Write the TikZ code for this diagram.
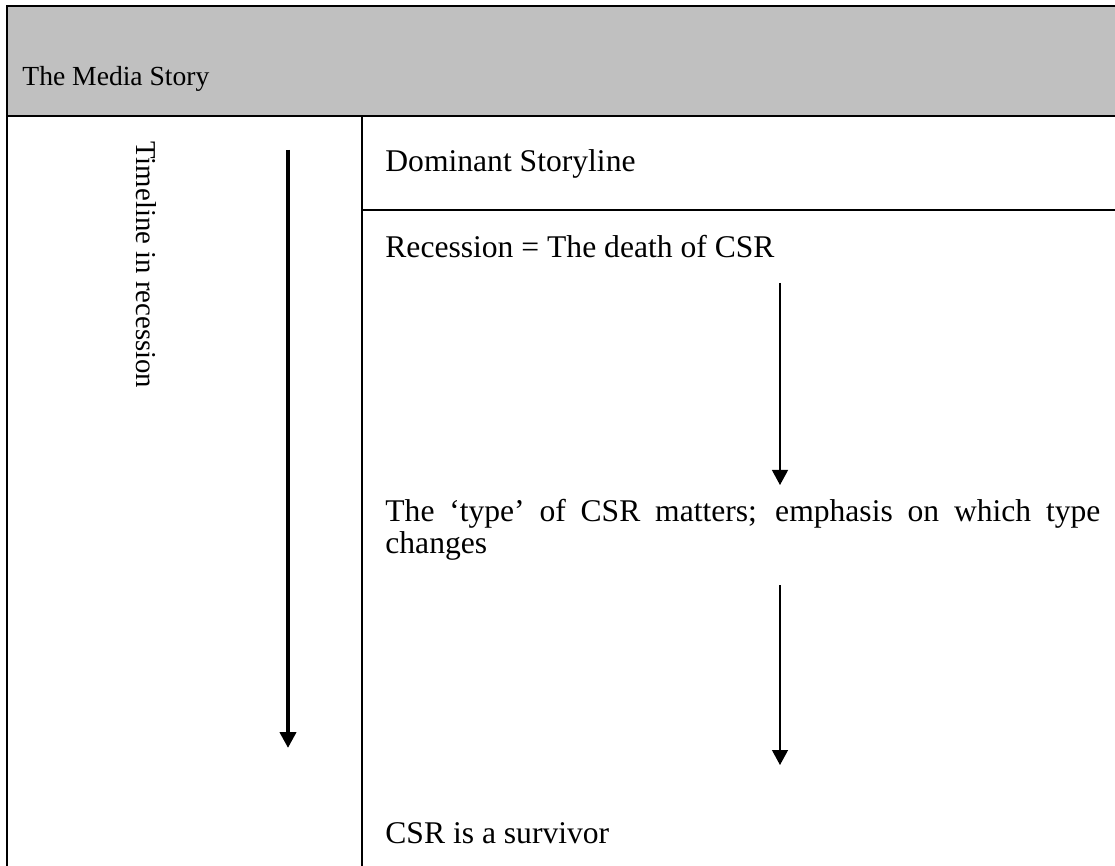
\documentclass[tikz,border=0pt]{standalone}
\usepackage{fontspec}
\setmainfont{Liberation Serif}
\usetikzlibrary{arrows.meta}
\definecolor{headgray}{RGB}{192,192,192}
\begin{document}
\begin{tikzpicture}[x=0.5pt,y=-0.5pt,
  frame/.style={line width=1.1pt,draw=black},
  rule/.style={line width=0.8pt,draw=black},
  headtxt/.style={inner sep=0pt,font=\fontsize{13.8}{16}\selectfont},
  bodytxt/.style={inner sep=0pt,font=\fontsize{15.8}{16}\selectfont},
  sidetxt/.style={inner sep=0pt,font=\fontsize{14.4}{16}\selectfont},
  flowarrow/.style={line width=0.6pt,-{Triangle[width=8pt,length=7.5pt]}},
  timearrow/.style={line width=2.2pt,-{Triangle[width=8pt,length=8pt]}}]
\useasboundingbox (0,0) rectangle (1115,866);

% header band and table rules
\fill[headgray] (7,6) rectangle (1115,116);
\draw[frame] (1115,6) -- (7,6) -- (7,866);
\draw[frame] (7,116) -- (1115,116);
\draw[rule] (362,116) -- (362,866);
\draw[rule] (362,210) -- (1115,210);

% texts
\node[headtxt,anchor=base west] (title) at (22,86) {The Media Story};
\node[sidetxt,rotate=-90,anchor=west] (timeline) at (146,141) {Timeline in recession};
\node[bodytxt,anchor=base west] (dominant) at (385,172) {Dominant Storyline};
\node[bodytxt,anchor=base west] (recession) at (385,258) {Recession = The death of CSR};
\node[bodytxt,anchor=base west,text width=357.5pt,align=justify] (typecsr) at (385,522)
  {The ‘type’ of CSR matters; emphasis on which type\linebreak changes};
\node[bodytxt,anchor=base west] (survivor) at (385,843) {CSR is a survivor};

% arrow end points
\coordinate (t0) at (288,150);
\coordinate (t1) at (288,748);
\coordinate (a0) at (780,283);
\coordinate (a1) at (780,485);
\coordinate (b0) at (780,585);
\coordinate (b1) at (780,765);

% arrows
\draw[timearrow] (t0) -- (t1);
\draw[flowarrow] (a0) -- (a1);
\draw[flowarrow] (b0) -- (b1);
\end{tikzpicture}
\end{document}
